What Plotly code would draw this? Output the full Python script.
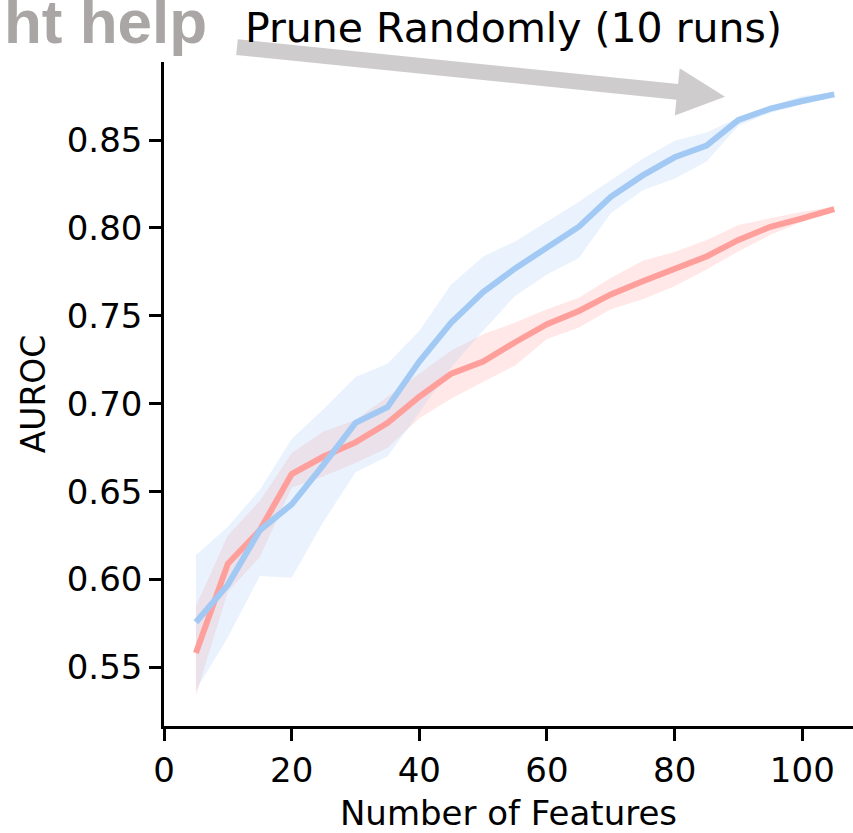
import plotly.graph_objects as go

# ---------------- data ----------------
num_features = [5, 10, 15, 20, 25, 30, 35, 40, 45, 50, 55, 60, 65, 70, 75, 80, 85, 90, 95, 100, 105]

blue_mean = [0.5757, 0.597, 0.628, 0.6428, 0.6654, 0.6891, 0.698, 0.724, 0.7462, 0.7635, 0.777,
             0.7885, 0.8007, 0.8177, 0.8299, 0.8402, 0.8468, 0.8614, 0.8679, 0.8722, 0.876]
blue_upper = [0.614, 0.630, 0.651, 0.680, 0.697, 0.7152, 0.7227, 0.7415, 0.7678, 0.7838, 0.7923,
              0.8036, 0.8149, 0.8271, 0.8393, 0.8496, 0.8543, 0.8628, 0.8693, 0.875, 0.877]
blue_lower = [0.537, 0.567, 0.602, 0.601, 0.633, 0.661, 0.670, 0.695, 0.7208, 0.7415, 0.7613,
              0.7735, 0.7829, 0.8083, 0.8214, 0.828, 0.8378, 0.8581, 0.8656, 0.8703, 0.875]

red_mean = [0.5582, 0.609, 0.628, 0.660, 0.670, 0.678, 0.689, 0.704, 0.7171, 0.724, 0.735,
            0.7453, 0.7528, 0.7622, 0.7697, 0.7763, 0.7838, 0.7932, 0.8007, 0.8054, 0.8107]
red_upper = [0.585, 0.625, 0.6447, 0.672, 0.6842, 0.6908, 0.704, 0.717, 0.7303, 0.7396, 0.7462,
             0.7537, 0.7603, 0.7716, 0.7814, 0.7863, 0.7932, 0.8017, 0.8054, 0.8092, 0.812]
red_lower = [0.534, 0.593, 0.6127, 0.6522, 0.6588, 0.6663, 0.6748, 0.6917, 0.703, 0.7124, 0.7218,
             0.7368, 0.7434, 0.7537, 0.7594, 0.7669, 0.7763, 0.7867, 0.7961, 0.8036, 0.8101]

x_ticks = [0, 20, 40, 60, 80, 100]
y_ticks = [0.55, 0.60, 0.65, 0.70, 0.75, 0.80, 0.85]
y_tick_labels = ["0.55", "0.60", "0.65", "0.70", "0.75", "0.80", "0.85"]

title_text = "Prune Randomly (10 runs)"
neighbor_title = "ht help"
x_label = "Number of Features"
y_label = "AUROC"

# ---------------- style ----------------
BLUE = "#a1c9f4"
RED = "#ff9f9b"
BLUE_FILL = "rgba(161,201,244,0.22)"
RED_FILL = "rgba(255,159,155,0.24)"
FONT = "DejaVu Sans"

W, H = 853, 833
L, R, T, B = 164, 0, 62, 101
PW, PH = W - L - R, H - T - B


def px(xp, yp):
    """pixel -> paper coordinates (for decorations only)"""
    return (xp - L) / PW, (H - B - yp) / PH


fig = go.Figure()


def band(lower, upper, fill):
    fig.add_trace(go.Scatter(x=num_features, y=lower, mode="lines", line=dict(width=0),
                             hoverinfo="skip", showlegend=False))
    fig.add_trace(go.Scatter(x=num_features, y=upper, mode="lines", line=dict(width=0),
                             fill="tonexty", fillcolor=fill, hoverinfo="skip", showlegend=False))


band(red_lower, red_upper, RED_FILL)
band(blue_lower, blue_upper, BLUE_FILL)
fig.add_trace(go.Scatter(x=num_features, y=red_mean, mode="lines",
                         line=dict(color=RED, width=6), showlegend=False))
fig.add_trace(go.Scatter(x=num_features, y=blue_mean, mode="lines",
                         line=dict(color=BLUE, width=6), showlegend=False))

# arrow (decoration)
tail = (237.0, 47.0)
tip = (725.0, 97.0)
dx, dy = tip[0] - tail[0], tip[1] - tail[1]
ln = (dx * dx + dy * dy) ** 0.5
ux, uy = dx / ln, dy / ln
nx, ny = -uy, ux
hs, hw, hl = 8.0, 24.0, 48.0
hb = (tip[0] - hl * ux, tip[1] - hl * uy)
pts = [
    (tail[0] - hs * nx, tail[1] - hs * ny),
    (hb[0] - hs * nx, hb[1] - hs * ny),
    (hb[0] - hw * nx, hb[1] - hw * ny),
    tip,
    (hb[0] + hw * nx, hb[1] + hw * ny),
    (hb[0] + hs * nx, hb[1] + hs * ny),
    (tail[0] + hs * nx, tail[1] + hs * ny),
]
path = "M " + " L ".join("%.5f,%.5f" % px(a, b) for a, b in pts) + " Z"
fig.add_shape(type="path", path=path, xref="paper", yref="paper",
              fillcolor="#cecccc", line=dict(width=0), layer="above")

tx, ty = px(513, 28)
fig.add_annotation(text=title_text, x=tx, y=ty, xref="paper", yref="paper",
                   xanchor="center", yanchor="middle", showarrow=False,
                   font=dict(family=FONT, size=41, color="black"))
nx_, ny_ = px(209, 21)
fig.add_annotation(text="<b>" + neighbor_title + "</b>", x=nx_, y=ny_, xref="paper", yref="paper",
                   xanchor="right", yanchor="middle", showarrow=False,
                   font=dict(family="Liberation Sans", size=62, color="#aaa6a6"))

axis_common = dict(showline=True, linecolor="black", linewidth=2.5, ticks="outside",
                   ticklen=12, tickwidth=2.5, tickcolor="black", showgrid=False,
                   zeroline=False, mirror=False,
                   tickfont=dict(family=FONT, size=34, color="black"))

fig.update_xaxes(range=[0, 107.94], tickvals=x_ticks,
                 title=dict(text=x_label, font=dict(family=FONT, size=34, color="black"), standoff=20),
                 **axis_common)
fig.update_yaxes(range=[0.5167, 0.8944], tickvals=y_ticks, ticktext=y_tick_labels,
                 title=dict(text=y_label, font=dict(family=FONT, size=33, color="black"), standoff=12),
                 **axis_common)

fig.update_layout(width=W, height=H, margin=dict(l=L, r=R, t=T, b=B, pad=0),
                  plot_bgcolor="white", paper_bgcolor="white", showlegend=False)

fig.write_html("out.html", config={"displayModeBar": False},
               post_script="document.body.style.margin='0';document.body.style.overflow='hidden';")
